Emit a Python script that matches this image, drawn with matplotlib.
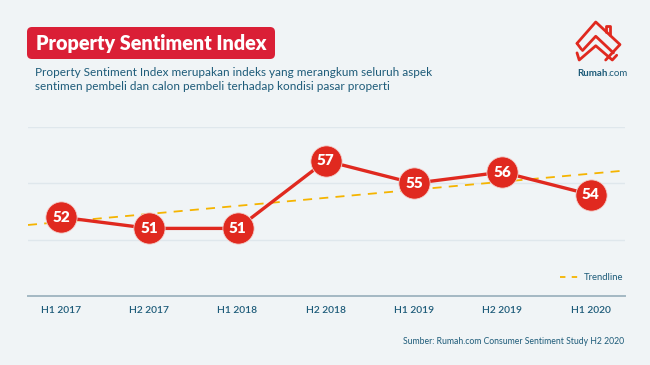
import numpy as np
import matplotlib
matplotlib.use('Agg')
import matplotlib.pyplot as plt
from matplotlib.patches import FancyBboxPatch

plt.rcParams['font.family'] = ['Lato', 'DejaVu Sans']

periods = ['H1 2017', 'H2 2017', 'H1 2018', 'H2 2018', 'H1 2019', 'H2 2019', 'H1 2020']
index_values = [52, 51, 51, 57, 55, 56, 54]

BG = '#f0f4f6'
RED = '#e0291f'
TEAL = '#1d5b79'
YELLOW = '#f5b400'

W, H = 650, 365
fig = plt.figure(figsize=(6.5, 3.65), dpi=100, facecolor=BG)

# chart area (pixel box 28..625 x 127..296)
ax = fig.add_axes([28 / W, 1 - 296 / H, (625 - 28) / W, (296 - 127) / H])
ax.set_facecolor(BG)
x = np.arange(len(periods))
ax.set_xlim(-0.374, 6.39)
ax.set_ylim(45, 60)
for gy in [50, 55, 60]:
    ax.axhline(gy, color='#dfe7ec', lw=1, zorder=0)
for s in ['top', 'left', 'right']:
    ax.spines[s].set_visible(False)
ax.spines['bottom'].set_color('#a3b8c3')
ax.spines['bottom'].set_linewidth(1.4)
ax.set_yticks([])
ax.set_xticks(x)
ax.set_xticklabels(periods, color=TEAL, fontsize=7.4, fontweight='semibold')
ax.tick_params(axis='x', length=0, pad=7)

# trendline (linear fit)
slope, icpt = np.polyfit(x, index_values, 1)
tx = np.array([-0.374, 6.39])
ax.plot(tx, slope * tx + icpt, color=YELLOW, lw=1.3, ls=(0, (5, 4)), zorder=2)

ax.plot(x, index_values, color=RED, lw=2.4, zorder=3)
ax.plot(x, index_values, 'o', ms=22.5, color=RED, mec='#f3d0cc', mew=0.6, zorder=4)
for xi, v in zip(x, index_values):
    ax.text(xi, v, str(v), ha='center', va='center', color='white',
            fontsize=11, fontweight='heavy', zorder=5)

# decoration layer in pixel coords
deco = fig.add_axes([0, 0, 1, 1], facecolor='none')
deco.set_xlim(0, W)
deco.set_ylim(H, 0)
deco.axis('off')

deco.add_patch(FancyBboxPatch((27, 27), 248, 32, boxstyle='round,pad=0,rounding_size=5',
                              fc='#da1f36', ec='none'))
deco.text(36, 43.5, 'Property Sentiment Index', color='white', fontsize=14.2,
          fontweight='heavy', va='center', ha='left')
deco.text(35, 73, 'Property Sentiment Index merupakan indeks yang merangkum seluruh aspek',
          color=TEAL, fontsize=8.5, va='center', ha='left')
deco.text(35, 87, 'sentimen pembeli dan calon pembeli terhadap kondisi pasar properti',
          color=TEAL, fontsize=8.5, va='center', ha='left')

# legend
deco.plot([560, 582], [277, 277], color=YELLOW, lw=1.3, ls=(0, (3, 3.5)))
deco.text(623, 277, 'Trendline', color=TEAL, fontsize=6.8, ha='right', va='center')

# source
deco.text(624, 341, 'Sumber: Rumah.com Consumer Sentiment Study H2 2020', color=TEAL,
          fontsize=6.2, ha='right', va='center')

# logo (drawn in a local box, then scaled into place)
def lx(v):
    return [577 + (p - 580) * 43 / 39 for p in v]

def ly(v):
    return [22 + (p - 26) * 38 / 32 for p in v]

lw_logo = 2.0
logo_paths = [
    ([580, 597, 619, 606], [44, 26, 45, 58]),
    ([606, 606, 610, 610], [34, 29, 29, 37]),
    ([585, 597, 613], [50, 38, 52]),
    ([580, 582, 597, 612, 616], [52, 58, 46, 58, 54]),
    ([580, 584], [44, 49]),
]
for px, py in logo_paths:
    deco.plot(lx(px), ly(py), color=RED, lw=lw_logo, solid_joinstyle='round',
              solid_capstyle='round')

t1 = deco.text(577, 73, 'Rumah', color=TEAL, fontsize=7.0, fontweight='bold',
               ha='left', va='center')
fig.canvas.draw()
bb = t1.get_window_extent()
x_end = deco.transData.inverted().transform((bb.x1, bb.y0))[0]
deco.text(x_end, 73, '.com', color=TEAL, fontsize=7.0, ha='left', va='center')

fig.savefig('out.png', dpi=100, facecolor=BG)
